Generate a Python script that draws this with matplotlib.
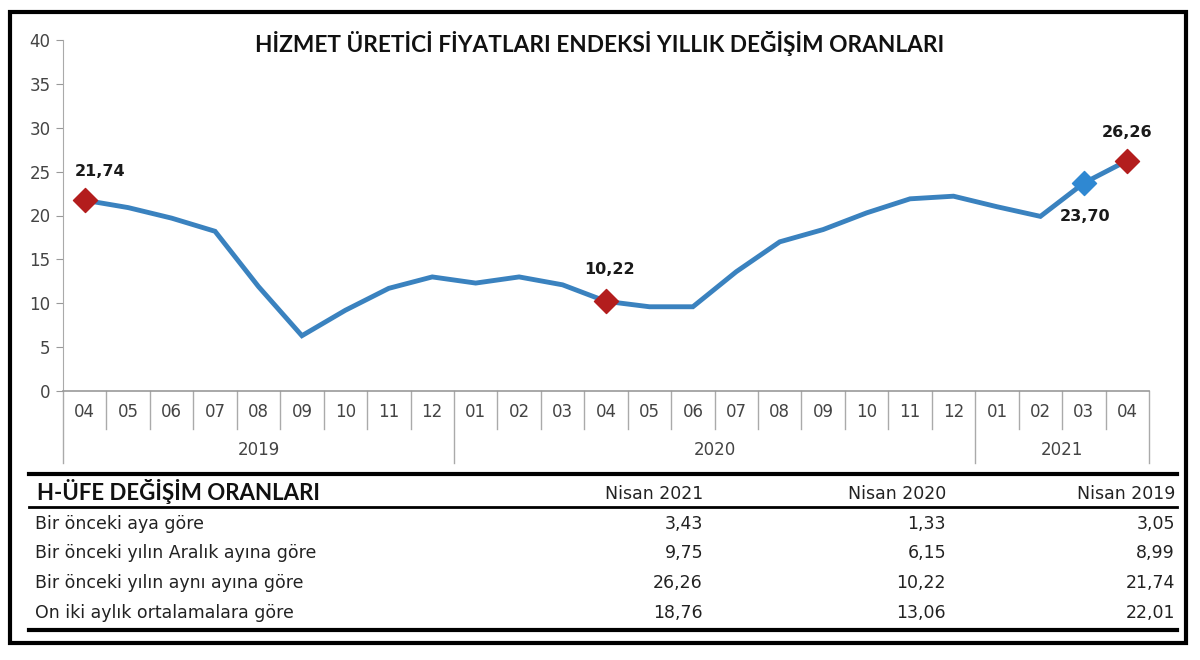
import matplotlib.pyplot as plt
import matplotlib.transforms as mtransforms
from matplotlib.lines import Line2D

months = ['04', '05', '06', '07', '08', '09', '10', '11', '12',
          '01', '02', '03', '04', '05', '06', '07', '08', '09', '10', '11', '12',
          '01', '02', '03', '04']
years = ['2019', '2020', '2021']
year_counts = [9, 12, 4]
values = [21.74, 20.9, 19.7, 18.2, 11.9, 6.3, 9.2, 11.7, 13.0,
          12.3, 13.0, 12.1, 10.22, 9.6, 9.6, 13.6, 17.0, 18.4, 20.3, 21.9, 22.2,
          21.0, 19.9, 23.70, 26.26]

# highlighted points
red_idx = [0, 12, 24]
blue_idx = [23]

table_cols = ['Nisan 2021', 'Nisan 2020', 'Nisan 2019']
table_rows = ['Bir önceki aya göre', 'Bir önceki yılın Aralık ayına göre',
              'Bir önceki yılın aynı ayına göre', 'On iki aylık ortalamalara göre']
table_vals = [['3,43', '1,33', '3,05'],
              ['9,75', '6,15', '8,99'],
              ['26,26', '10,22', '21,74'],
              ['18,76', '13,06', '22,01']]

W, H = 1200, 660
fig = plt.figure(figsize=(12, 6.6), dpi=100)
fig.patch.set_facecolor('white')

def fx(px):
    return px / W

def fy(py):
    return 1 - py / H

# plot area in pixels
left, right, top, bottom = 63, 1149, 40, 391
ax = fig.add_axes([fx(left), fy(bottom), fx(right - left), (bottom - top) / H])
n = len(values)
x = list(range(n))
ax.plot(x, values, color='#3a82bf', lw=3.5, solid_joinstyle='miter', zorder=3)
ax.scatter([x[i] for i in red_idx], [values[i] for i in red_idx], marker='D', s=150,
           color='#b31d1d', zorder=4)
ax.scatter([x[i] for i in blue_idx], [values[i] for i in blue_idx], marker='D', s=150,
           color='#2f88d2', zorder=4)

lbl = lambda v: f'{v:.2f}'.replace('.', ',')
# label offsets in pixels from the marker
offsets = {0: (15, 29), 12: (4, 32), 23: (1, -33), 24: (0, 28)}
for i, off in offsets.items():
    ax.annotate(lbl(values[i]), (i, values[i]), xytext=off, textcoords='offset pixels',
                ha='center', va='center', fontsize=11.5, fontweight='bold',
                family='DejaVu Sans', color='#1a1a1a')

ax.set_xlim(-0.5, n - 0.5)
ax.set_ylim(0, 40)
ax.set_yticks(range(0, 41, 5))
ax.set_xticks([])
ax.tick_params(axis='y', length=5, color='#999999', labelsize=12, labelcolor='#444444', pad=4)
for t in ax.get_yticklabels():
    t.set_family('DejaVu Sans')
for s in ['top', 'right']:
    ax.spines[s].set_visible(False)
ax.spines['left'].set_color('#aaaaaa')
ax.spines['bottom'].set_color('#999999')
ax.spines['bottom'].set_linewidth(1.2)

# category axis: months, years, separators
trans = mtransforms.blended_transform_factory(ax.transData, ax.transAxes)
h = bottom - top
for i, m in enumerate(months):
    ax.text(i, -21 / h, m, transform=trans, ha='center', va='center', fontsize=12,
            color='#444444', family='DejaVu Sans')
year_bounds = [-0.5]
start = 0
for yr, c in zip(years, year_counts):
    ax.text(start + (c - 1) / 2, -59 / h, yr, transform=trans, ha='center', va='center',
            fontsize=12, color='#444444', family='DejaVu Sans')
    start += c
    year_bounds.append(start - 0.5)
for k in range(n + 1):
    xb = k - 0.5
    y_end = -72 / h if xb in year_bounds else -38 / h
    ax.add_line(Line2D([xb, xb], [0, y_end], transform=trans, color='#aaaaaa', lw=1,
                       clip_on=False))

fig.text(0.5, fy(43), 'HİZMET ÜRETİCİ FİYATLARI ENDEKSİ YILLIK DEĞİŞİM ORANLARI',
         ha='center', va='center', fontsize=16.3, fontweight='bold', family='Lato', color='#111111')

# table below the chart
tl, tr = 29, 1177
fig.add_artist(Line2D([fx(tl), fx(tr)], [fy(474), fy(474)], color='black', lw=3))
fig.add_artist(Line2D([fx(tl), fx(tr)], [fy(507), fy(507)], color='black', lw=2))
fig.add_artist(Line2D([fx(tl), fx(tr)], [fy(630), fy(630)], color='black', lw=3))
fig.text(fx(37), fy(492), 'H-ÜFE DEĞİŞİM ORANLARI', ha='left', va='center', fontsize=16,
         fontweight='bold', family='Lato', color='#111111')
col_x = [703, 946, 1175]
for cx, c in zip(col_x, table_cols):
    fig.text(fx(cx), fy(494), c, ha='right', va='center', fontsize=12.5,
             family='DejaVu Sans', color='#222222')
row_y = [524, 553, 583, 613]
for ry, r, vals in zip(row_y, table_rows, table_vals):
    fig.text(fx(35), fy(ry), r, ha='left', va='center', fontsize=12.5,
             family='DejaVu Sans', color='#222222')
    for cx, v in zip(col_x, vals):
        fig.text(fx(cx), fy(ry), v, ha='right', va='center', fontsize=12.5,
                 family='DejaVu Sans', color='#222222')

# outer frame
fig.add_artist(plt.Rectangle((fx(10), fy(643)), fx(1176), (643 - 12) / H, fill=False,
                             edgecolor='black', lw=3))

fig.savefig('out.png', dpi=100)
